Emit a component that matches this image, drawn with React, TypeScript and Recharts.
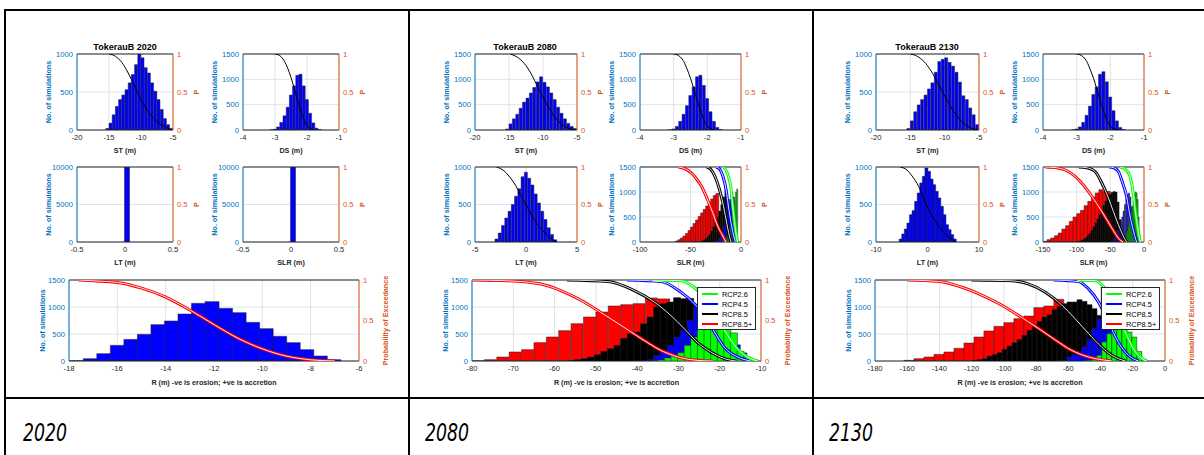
import React from "react";
import { ComposedChart, Bar, Line, XAxis, YAxis, CartesianGrid, ReferenceLine, Legend } from "recharts";

const FONT = "'Liberation Sans', Arial, Helvetica, sans-serif";
const INK = "#262626";
const LEFT_BLUE = "#0072BD";
const RIGHT_ORANGE = "#D95319";
const HIST_BLUE = "#0000FF";
const C26 = "#00FF00";
const C45 = "#0000FF";
const C85 = "#000000";
const C85P = "#FF0000";

const YEARS = ["2020", "2080", "2130"];
const RCP_LABELS = ["RCP2.6", "RCP4.5", "RCP8.5", "RCP8.5+"];
const RCP_COLORS = [C26, C45, C85, C85P];

// tick sets
const ST_TICKS = [-20, -15, -10, -5];
const DS_TICKS = [-4, -3, -2, -1];
const P_TICKS = [0, 0.5, 1];
const N1000 = [0, 500, 1000];
const N1500 = [0, 500, 1000, 1500];
const N10000 = [0, 5000, 10000];
const LT_TICKS_2020 = [-0.5, 0, 0.5];
const LT_TICKS_2080 = [-5, 0, 5];
const LT_TICKS_2130 = [-10, 0, 10];
const SLR_TICKS_2080 = [-100, -50, 0];
const SLR_TICKS_2130 = [-150, -100, -50, 0];
const R_TICKS_2020 = [-18, -16, -14, -12, -10, -8, -6];
const R_TICKS_2080 = [-80, -70, -60, -50, -40, -30, -20, -10];
const R_TICKS_2130 = [-180, -160, -140, -120, -100, -80, -60, -40, -20, 0];

// ---- 2020 ---- (bins = [first bin centre, bin width])
const ST_2020 = [20, 90, 200, 310, 400, 460, 530, 620, 730, 860, 1000, 950, 820, 750, 620, 510, 400, 270, 150, 70, 20];
const ST_2020_BIN = [-15.25, 0.5];
const ST_2020_P = [[-15, 1], [-14, 0.97], [-13, 0.89], [-12, 0.75], [-11, 0.58], [-10, 0.4], [-9, 0.26], [-8, 0.15], [-7, 0.08], [-6, 0.03], [-5.2, 0]];
const DS_2020 = [5, 15, 60, 150, 280, 450, 690, 870, 1080, 1100, 870, 600, 330, 140, 35, 8];
const DS_2020_BIN = [-3.1, 0.1];
const DS_2020_P = [[-3, 1], [-2.9, 0.99], [-2.8, 0.96], [-2.7, 0.9], [-2.6, 0.81], [-2.5, 0.69], [-2.4, 0.55], [-2.3, 0.4], [-2.2, 0.26], [-2.1, 0.14], [-2.0, 0.06], [-1.9, 0.02], [-1.8, 0]];
const LT_2020 = [0, 10000, 0];
const LT_2020_BIN = [-0.03, 0.05];
const SLR_2020 = [0, 10000, 0];
const SLR_2020_BIN = [-0.03, 0.05];
const R_2020 = [5, 43, 136, 290, 400, 494, 673, 741, 870, 1068, 1099, 975, 895, 716, 599, 457, 340, 210, 93, 25];
const R_2020_BIN = [-17.69, 0.56];
const R_2020_P = [[-17.6, 1], [-17, 0.99], [-16, 0.97], [-15, 0.9], [-14, 0.79], [-13, 0.63], [-12, 0.45], [-11, 0.28], [-10, 0.15], [-9, 0.06], [-8, 0.015], [-7, 0]];

// ---- 2080 ----
const ST_2080 = [20, 120, 220, 310, 430, 550, 630, 730, 840, 950, 1050, 940, 850, 730, 600, 450, 330, 220, 130, 70, 30];
const ST_2080_BIN = [-15.25, 0.5];
const ST_2080_P = [[-14.8, 1], [-14, 0.97], [-13, 0.9], [-12, 0.78], [-11, 0.61], [-10, 0.43], [-9, 0.27], [-8, 0.14], [-7, 0.06], [-6, 0.015], [-5.3, 0]];
const DS_2080 = [5, 20, 70, 170, 310, 480, 680, 850, 1050, 1080, 880, 620, 360, 170, 50, 10];
const DS_2080_BIN = [-3.1, 0.1];
const DS_2080_P = [[-3, 1], [-2.9, 0.99], [-2.8, 0.96], [-2.7, 0.9], [-2.6, 0.8], [-2.5, 0.68], [-2.4, 0.54], [-2.3, 0.39], [-2.2, 0.25], [-2.1, 0.13], [-2.0, 0.05], [-1.9, 0.015], [-1.8, 0]];
const LT_2080 = [40, 120, 220, 320, 410, 500, 610, 710, 870, 930, 850, 760, 640, 520, 410, 300, 190, 100, 30];
const LT_2080_BIN = [-2.88, 0.32];
const LT_2080_P = [[-2.9, 1], [-2.5, 0.98], [-2, 0.93], [-1.5, 0.85], [-1, 0.75], [-0.5, 0.62], [0, 0.5], [0.5, 0.37], [1, 0.26], [1.5, 0.17], [2, 0.1], [2.5, 0.04], [3, 0]];
const SLR_2080_RED = [20, 45, 80, 120, 170, 230, 300, 370, 440, 510, 580, 650, 720, 790, 860, 930, 970, 600, 200];
const SLR_2080_RED_BIN = [-63.75, 2.5];
const SLR_2080_BLACK = [10, 30, 60, 100, 150, 220, 300, 400, 500, 620, 750, 900, 1050, 800];
const SLR_2080_BLACK_BIN = [-39, 2];
const SLR_2080_BLUE = [10, 30, 70, 130, 210, 310, 430, 560, 700, 850, 1000, 900, 300];
const SLR_2080_BLUE_BIN = [-24.25, 1.5];
const SLR_2080_GREEN = [10, 30, 60, 110, 180, 270, 380, 510, 660, 820, 1000, 1060];
const SLR_2080_GREEN_BIN = [-17.375, 1.25];
const SLR_2080_RED_P = [[-62, 1], [-56, 0.98], [-49, 0.92], [-44, 0.84], [-39, 0.74], [-33, 0.56], [-28, 0.39], [-23, 0.21], [-18, 0.08], [-15, 0]];
const SLR_2080_BLACK_P = [[-34, 1], [-30, 0.97], [-26, 0.88], [-21.3, 0.7], [-18, 0.52], [-14.8, 0.3], [-11.5, 0.08], [-9.8, 0]];
const SLR_2080_BLUE_P = [[-24.6, 1], [-21, 0.97], [-18, 0.88], [-14.8, 0.7], [-12.5, 0.48], [-9.8, 0.25], [-7.2, 0.08], [-5.6, 0]];
const SLR_2080_GREEN_P = [[-18, 1], [-15.5, 0.97], [-13.1, 0.9], [-9.8, 0.7], [-8.2, 0.48], [-5.9, 0.21], [-3.9, 0.03], [-3.3, 0]];
const R_2080_RED = [3, 25, 74, 167, 210, 340, 444, 562, 691, 815, 907, 1019, 1043, 1062, 1167, 1150, 900, 550, 200, 40];
const R_2080_RED_BIN = [-78.5, 3];
const R_2080_BLACK = [6, 25, 43, 74, 117, 179, 228, 290, 420, 506, 537, 691, 815, 1000, 1062, 1093, 1173, 1154, 1160, 1050, 850, 600, 380, 200, 80, 20];
const R_2080_BLACK_BIN = [-56, 1.6];
const R_2080_BLUE = [3, 10, 25, 105, 185, 290, 444, 568, 753, 1000, 1154, 1100, 950, 750, 500, 300, 150, 50];
const R_2080_BLUE_BIN = [-39.9, 1.6];
const R_2080_GREEN = [5, 19, 56, 105, 154, 290, 444, 710, 900, 1050, 900, 700, 520, 180, 74, 25];
const R_2080_GREEN_BIN = [-35.8, 1.6];
const R_2080_RED_P = [[-80, 1], [-71.4, 0.99], [-63.3, 0.95], [-58.5, 0.87], [-53.6, 0.75], [-48.8, 0.6], [-43.9, 0.44], [-39.1, 0.28], [-34.2, 0.13], [-29.4, 0.04], [-24.5, 0.005], [-21.7, 0]];
const R_2080_BLACK_P = [[-57, 1], [-47.1, 0.98], [-40.7, 0.87], [-35.9, 0.73], [-31.8, 0.56], [-28.6, 0.4], [-25.4, 0.23], [-22.1, 0.11], [-18.9, 0.03], [-16.1, 0]];
const R_2080_BLUE_P = [[-42.4, 1], [-34.2, 0.98], [-29.4, 0.85], [-26.2, 0.71], [-23.7, 0.56], [-21.3, 0.36], [-18.9, 0.17], [-15.7, 0.05], [-12.5, 0]];
const R_2080_GREEN_P = [[-36.3, 1], [-29.4, 0.99], [-26.2, 0.91], [-23, 0.73], [-20.6, 0.52], [-18.1, 0.32], [-15.7, 0.15], [-13.3, 0.05], [-10.8, 0]];

// ---- 2130 ----
const ST_2130 = [20, 120, 240, 330, 400, 460, 540, 620, 760, 900, 930, 950, 890, 840, 760, 630, 450, 400, 290, 200, 70];
const ST_2130_BIN = [-15.25, 0.5];
const ST_2130_P = [[-15, 1], [-14, 0.97], [-13, 0.9], [-12, 0.78], [-11, 0.62], [-10, 0.45], [-9, 0.29], [-8, 0.16], [-7, 0.07], [-6, 0.02], [-5.2, 0]];
const DS_2130 = [5, 20, 60, 150, 290, 470, 700, 850, 1100, 1150, 950, 650, 380, 180, 50, 10];
const DS_2130_BIN = [-3.1, 0.1];
const DS_2130_P = [[-3, 1], [-2.9, 0.99], [-2.8, 0.96], [-2.7, 0.9], [-2.6, 0.8], [-2.5, 0.68], [-2.4, 0.54], [-2.3, 0.39], [-2.2, 0.25], [-2.1, 0.13], [-2.0, 0.05], [-1.9, 0.015], [-1.75, 0]];
const LT_2130 = [40, 107, 173, 253, 364, 418, 542, 653, 787, 876, 987, 942, 840, 764, 676, 587, 476, 364, 231, 164, 98, 40];
const LT_2130_BIN = [-5.25, 0.5];
const LT_2130_P = [[-5.3, 1], [-4, 0.96], [-3, 0.88], [-1.7, 0.74], [-0.4, 0.52], [0.9, 0.34], [2.2, 0.21], [3.5, 0.1], [4.8, 0.03], [5.4, 0]];
const SLR_2130_RED = [13, 47, 80, 127, 180, 260, 327, 413, 500, 567, 633, 727, 813, 900, 980, 1047, 1013, 1013, 700, 300, 80];
const SLR_2130_RED_BIN = [-146.75, 5.5];
const SLR_2130_BLACK = [5, 15, 30, 50, 80, 120, 170, 230, 300, 380, 460, 550, 640, 730, 820, 900, 950, 990, 1010, 1000, 800, 450, 150, 30];
const SLR_2130_BLACK_BIN = [-98.5, 3];
const SLR_2130_BLUE = [5, 15, 30, 60, 100, 150, 220, 300, 400, 500, 620, 750, 870, 950, 980, 900, 700, 400, 100];
const SLR_2130_BLUE_BIN = [-50, 2];
const SLR_2130_GREEN = [5, 10, 20, 40, 70, 110, 160, 230, 310, 400, 500, 610, 720, 830, 930, 1000, 980, 850, 500, 150];
const SLR_2130_GREEN_BIN = [-35, 1.5];
const SLR_2130_RED_P = [[-146.5, 1], [-130, 0.99], [-117, 0.96], [-97, 0.83], [-77.6, 0.61], [-62.8, 0.41], [-48, 0.19], [-36, 0.03], [-31, 0]];
const SLR_2130_BLACK_P = [[-97, 1], [-85, 0.99], [-72.7, 0.94], [-62.8, 0.79], [-53, 0.59], [-45.6, 0.41], [-38, 0.23], [-30.8, 0.08], [-25.9, 0]];
const SLR_2130_BLUE_P = [[-51.5, 1], [-45, 0.99], [-38, 0.94], [-33.3, 0.83], [-25.9, 0.61], [-21, 0.36], [-16, 0.16], [-12.1, 0.03], [-11, 0]];
const SLR_2130_GREEN_P = [[-35.7, 1], [-28, 0.97], [-21, 0.88], [-16, 0.65], [-12.6, 0.39], [-8.6, 0.14], [-6.2, 0.03], [-5.2, 0]];
const R_2130_RED = [12, 43, 74, 123, 167, 235, 333, 444, 556, 642, 710, 784, 833, 988, 1019, 1142, 1000, 700, 400, 150, 40];
const R_2130_RED_BIN = [-158.9, 6.2];
const R_2130_BLACK = [12, 25, 43, 93, 117, 154, 216, 278, 340, 401, 475, 568, 660, 735, 815, 858, 951, 1012, 1062, 1093, 1093, 1136, 1105, 1043, 969, 846, 599, 352, 167, 43, 12];
const R_2130_BLACK_BIN = [-118.15, 3.1];
const R_2130_BLUE = [3, 12, 74, 117, 179, 260, 400, 599, 784, 920, 1050, 1000, 850, 650, 420, 220, 80, 15];
const R_2130_BLUE_BIN = [-65.55, 3.1];
const R_2130_GREEN = [3, 12, 25, 105, 352, 506, 700, 850, 820, 537, 444, 179, 25];
const R_2130_GREEN_BIN = [-50.05, 3.1];
const R_2130_RED_P = [[-160, 1], [-146.6, 0.99], [-136.2, 0.97], [-125.9, 0.91], [-115.6, 0.83], [-103.2, 0.71], [-90.8, 0.56], [-78.4, 0.4], [-68.1, 0.26], [-57.8, 0.13], [-47.5, 0.05], [-37.1, 0.01], [-33, 0]];
const R_2130_BLACK_P = [[-120, 1], [-95, 0.99], [-84.6, 0.95], [-74.3, 0.85], [-64, 0.69], [-55.7, 0.52], [-47.5, 0.34], [-39.2, 0.17], [-33, 0.07], [-24.7, 0]];
const R_2130_BLUE_P = [[-69, 1], [-53.6, 0.98], [-47.5, 0.89], [-41.3, 0.73], [-35.1, 0.48], [-28.9, 0.23], [-22.7, 0.07], [-16.5, 0]];
const R_2130_GREEN_P = [[-54.7, 1], [-43.3, 0.99], [-37.1, 0.89], [-30.9, 0.65], [-24.7, 0.36], [-19.6, 0.15], [-14.4, 0.03], [-11.3, 0]];

type Hist = { counts: number[]; bin: number[]; color: string };
type Curve = { pts: number[][]; color: string; halo: boolean };

// chart frame around each plot area
const MT = 8;
const MB = 4;
const ML = 4;
const MR = 8;
const LW = 40;
const RW = 40;
const XH = 30;

const hist = (counts: number[], bin: number[], color: string): Hist => ({ counts, bin, color });
const cdf = (pts: number[][], color: string, halo = true): Curve => ({ pts, color, halo });
const histRows = (h: Hist) => h.counts.map((n, i) => ({ x: h.bin[0] + i * h.bin[1], n }));

function AxisText(props: any) {
  const { lx, ly, txt, tint, vert } = props;
  return (
    <text
      x={lx}
      y={ly}
      transform={vert ? `rotate(-90 ${lx} ${ly})` : undefined}
      textAnchor="middle"
      dominantBaseline="central"
      fill={tint}
      fontSize={7.2}
      fontWeight={700}
      fontFamily={FONT}
    >
      {txt}
    </text>
  );
}

function RcpLegend() {
  return (
    <div style={{ width: 59, height: 43, boxSizing: "border-box", border: "1px solid #262626", background: "#fff", paddingTop: 1 }}>
      {RCP_LABELS.map((name, i) => (
        <div key={name} style={{ display: "flex", alignItems: "center", height: 10, fontSize: 7.4, fontFamily: FONT, color: "#000", whiteSpace: "nowrap" }}>
          <span style={{ display: "inline-block", width: 16, height: 2, background: RCP_COLORS[i], marginLeft: 4, marginRight: 4 }} />
          {name}
        </div>
      ))}
    </div>
  );
}

interface PlotProps {
  x: number;
  y: number;
  w: number;
  h: number;
  xDomain: number[];
  xTicks: number[];
  yTicks: number[];
  hists: Hist[];
  curves: Curve[];
  xLabel: string;
  rLabel: string;
  big?: boolean;
  legendAt?: number[];
}

function Plot({ x, y, w, h, xDomain, xTicks, yTicks, hists, curves, xLabel, rLabel, big, legendAt }: PlotProps) {
  const yMax = yTicks[yTicks.length - 1];
  const px0 = ML + LW;
  const yOff = big ? 27 : 29;
  const rOff = big ? 26 : 23;
  const xOff = big ? 21 : 20;
  const tickFont = { fontSize: 7.6, fontFamily: FONT };
  const base = hists[0];
  const zero = { top: 0, right: 0, bottom: 0, left: 0 };
  return (
    <>
      <div style={{ position: "absolute", left: x - px0, top: y - MT }}>
        <ComposedChart
          width={w + LW + RW + ML + MR}
          height={h + XH + MT + MB}
          data={histRows(base)}
          margin={{ top: MT, right: MR, bottom: MB, left: ML }}
          barCategoryGap={0}
          barGap={0}
        >
          <CartesianGrid xAxisId="x" yAxisId="n" vertical={false} stroke="#dce6ef" />
          <CartesianGrid xAxisId="x" yAxisId="n" horizontal={false} stroke="#e2e2e2" />
          <XAxis
            xAxisId="x"
            dataKey="x"
            type="number"
            domain={xDomain}
            ticks={xTicks}
            allowDataOverflow
            interval={0}
            height={XH}
            tickSize={0}
            tickMargin={5}
            tick={{ ...tickFont, fill: INK }}
            axisLine={{ stroke: INK }}
            label={<AxisText lx={px0 + w / 2} ly={MT + h + xOff} txt={xLabel} tint={INK} />}
          />
          <YAxis
            yAxisId="n"
            orientation="left"
            type="number"
            width={LW}
            domain={[0, yMax]}
            ticks={yTicks}
            allowDataOverflow
            interval={0}
            tickSize={0}
            tickMargin={4}
            tick={{ ...tickFont, fill: LEFT_BLUE }}
            axisLine={{ stroke: LEFT_BLUE }}
            label={<AxisText lx={px0 - yOff} ly={MT + h / 2} txt="No. of simulations" tint={LEFT_BLUE} vert />}
          />
          <YAxis
            yAxisId="p"
            orientation="right"
            type="number"
            width={RW}
            domain={[0, 1]}
            ticks={P_TICKS}
            allowDataOverflow
            interval={0}
            tickSize={0}
            tickMargin={4}
            tick={{ ...tickFont, fill: RIGHT_ORANGE }}
            axisLine={{ stroke: RIGHT_ORANGE }}
            label={<AxisText lx={px0 + w + rOff} ly={MT + h / 2} txt={rLabel} tint={RIGHT_ORANGE} vert />}
          />
          <ReferenceLine xAxisId="x" yAxisId="n" y={yMax} stroke={INK} />
          <Bar xAxisId="x" yAxisId="n" dataKey="n" fill={base.color} stroke="#222" strokeWidth={0.5} isAnimationActive={false} />
        </ComposedChart>
      </div>
      {hists.slice(1).map((hh, i) => (
        <div key={"h" + i} style={{ position: "absolute", left: x, top: y }}>
          <ComposedChart width={w} height={h} data={histRows(hh)} margin={zero} barCategoryGap={0} barGap={0}>
            <XAxis xAxisId="x" dataKey="x" type="number" domain={xDomain} allowDataOverflow hide />
            <YAxis yAxisId="n" type="number" domain={[0, yMax]} allowDataOverflow hide />
            <Bar xAxisId="x" yAxisId="n" dataKey="n" fill={hh.color} stroke="#222" strokeWidth={0.5} isAnimationActive={false} />
          </ComposedChart>
        </div>
      ))}
      <div style={{ position: "absolute", left: x, top: y }}>
        <ComposedChart width={w} height={h} margin={zero}>
          <XAxis xAxisId="x" dataKey="x" type="number" domain={xDomain} allowDataOverflow hide />
          <YAxis yAxisId="p" type="number" domain={[0, 1]} allowDataOverflow hide />
          {curves.map((c, i) => (
            <Line
              key={"c" + i}
              xAxisId="x"
              yAxisId="p"
              data={c.pts.map(([px, p]) => ({ x: px, p }))}
              dataKey="p"
              type="monotone"
              stroke={c.color}
              strokeWidth={c.halo ? 3 : 1}
              dot={false}
              activeDot={false}
              isAnimationActive={false}
            />
          ))}
          {curves
            .filter((c) => c.halo)
            .map((c, i) => (
              <Line
                key={"w" + i}
                xAxisId="x"
                yAxisId="p"
                data={c.pts.map(([px, p]) => ({ x: px, p }))}
                dataKey="p"
                type="monotone"
                stroke="#ffffff"
                strokeWidth={0.9}
                dot={false}
                activeDot={false}
                isAnimationActive={false}
              />
            ))}
          {legendAt && (
            <Legend
              layout="vertical"
              align="center"
              verticalAlign="middle"
              wrapperStyle={{ left: legendAt[0], top: legendAt[1], width: 59, height: 43 }}
              content={() => <RcpLegend />}
            />
          )}
        </ComposedChart>
      </div>
    </>
  );
}

function Title({ cx, text }: { cx: number; text: string }) {
  return (
    <div style={{ position: "absolute", left: cx - 60, top: 41, width: 120, textAlign: "center", fontFamily: FONT, fontWeight: 700, fontSize: 9, lineHeight: "12px", color: "#000" }}>
      {text}
    </div>
  );
}

const R_LABEL = "R (m) -ve is erosion; +ve is accretion";
const PEX = "Probability of Exceedance";

export default function App() {
  const line = (l: number, t: number, w: number, hgt: number) => (
    <div style={{ position: "absolute", left: l, top: t, width: w, height: hgt, background: "#000" }} />
  );
  const yearLeft = [23, 425, 829];
  return (
    <div style={{ position: "absolute", left: 0, top: 0, width: 1204, height: 455, background: "#fff", overflow: "hidden" }}>
      {line(4, 9, 1200, 2)}
      {line(4, 9, 2, 446)}
      {line(408, 9, 2, 446)}
      {line(812, 9, 2, 446)}
      {line(4, 397, 1200, 2)}

      {/* 2020 */}
      <Title cx={125} text={"TokerauB " + YEARS[0]} />
      <Plot x={77} y={54} w={96} h={76} xDomain={[-20, -5]} xTicks={ST_TICKS} yTicks={N1000} xLabel="ST (m)" rLabel="P"
        hists={[hist(ST_2020, ST_2020_BIN, HIST_BLUE)]} curves={[cdf(ST_2020_P, "#000", false)]} />
      <Plot x={243} y={54} w={96} h={76} xDomain={[-4, -1]} xTicks={DS_TICKS} yTicks={N1500} xLabel="DS (m)" rLabel="P"
        hists={[hist(DS_2020, DS_2020_BIN, HIST_BLUE)]} curves={[cdf(DS_2020_P, "#000", false)]} />
      <Plot x={77} y={167} w={96} h={75} xDomain={[-0.5, 0.5]} xTicks={LT_TICKS_2020} yTicks={N10000} xLabel="LT (m)" rLabel="P"
        hists={[hist(LT_2020, LT_2020_BIN, HIST_BLUE)]} curves={[]} />
      <Plot x={243} y={167} w={96} h={75} xDomain={[-0.5, 0.5]} xTicks={LT_TICKS_2020} yTicks={N10000} xLabel="SLR (m)" rLabel="P"
        hists={[hist(SLR_2020, SLR_2020_BIN, HIST_BLUE)]} curves={[]} />
      <Plot x={69} y={280} w={290} h={81} xDomain={[-18, -6]} xTicks={R_TICKS_2020} yTicks={N1500} xLabel={R_LABEL} rLabel={PEX} big
        hists={[hist(R_2020, R_2020_BIN, HIST_BLUE)]} curves={[cdf(R_2020_P, C85P)]} />

      {/* 2080 */}
      <Title cx={525} text={"TokerauB " + YEARS[1]} />
      <Plot x={475} y={54} w={102} h={76} xDomain={[-20, -5]} xTicks={ST_TICKS} yTicks={N1500} xLabel="ST (m)" rLabel="P"
        hists={[hist(ST_2080, ST_2080_BIN, HIST_BLUE)]} curves={[cdf(ST_2080_P, "#000", false)]} />
      <Plot x={640} y={54} w={101} h={76} xDomain={[-4, -1]} xTicks={DS_TICKS} yTicks={N1500} xLabel="DS (m)" rLabel="P"
        hists={[hist(DS_2080, DS_2080_BIN, HIST_BLUE)]} curves={[cdf(DS_2080_P, "#000", false)]} />
      <Plot x={475} y={167} w={102} h={75} xDomain={[-5, 5]} xTicks={LT_TICKS_2080} yTicks={N1000} xLabel="LT (m)" rLabel="P"
        hists={[hist(LT_2080, LT_2080_BIN, HIST_BLUE)]} curves={[cdf(LT_2080_P, "#000", false)]} />
      <Plot x={640} y={167} w={101} h={75} xDomain={[-100, 0]} xTicks={SLR_TICKS_2080} yTicks={N1500} xLabel="SLR (m)" rLabel="P"
        hists={[
          hist(SLR_2080_RED, SLR_2080_RED_BIN, C85P),
          hist(SLR_2080_BLACK, SLR_2080_BLACK_BIN, C85),
          hist(SLR_2080_BLUE, SLR_2080_BLUE_BIN, C45),
          hist(SLR_2080_GREEN, SLR_2080_GREEN_BIN, C26),
        ]}
        curves={[cdf(SLR_2080_RED_P, C85P), cdf(SLR_2080_BLACK_P, C85), cdf(SLR_2080_BLUE_P, C45), cdf(SLR_2080_GREEN_P, C26)]} />
      <Plot x={472} y={280} w={289} h={81} xDomain={[-80, -10]} xTicks={R_TICKS_2080} yTicks={N1500} xLabel={R_LABEL} rLabel={PEX} big
        legendAt={[225, 7]}
        hists={[
          hist(R_2080_RED, R_2080_RED_BIN, C85P),
          hist(R_2080_BLACK, R_2080_BLACK_BIN, C85),
          hist(R_2080_BLUE, R_2080_BLUE_BIN, C45),
          hist(R_2080_GREEN, R_2080_GREEN_BIN, C26),
        ]}
        curves={[cdf(R_2080_RED_P, C85P), cdf(R_2080_BLACK_P, C85), cdf(R_2080_BLUE_P, C45), cdf(R_2080_GREEN_P, C26)]} />

      {/* 2130 */}
      <Title cx={927} text={"TokerauB " + YEARS[2]} />
      <Plot x={876} y={54} w={103} h={76} xDomain={[-20, -5]} xTicks={ST_TICKS} yTicks={N1000} xLabel="ST (m)" rLabel="P"
        hists={[hist(ST_2130, ST_2130_BIN, HIST_BLUE)]} curves={[cdf(ST_2130_P, "#000", false)]} />
      <Plot x={1043} y={54} w={101} h={76} xDomain={[-4, -1]} xTicks={DS_TICKS} yTicks={N1500} xLabel="DS (m)" rLabel="P"
        hists={[hist(DS_2130, DS_2130_BIN, HIST_BLUE)]} curves={[cdf(DS_2130_P, "#000", false)]} />
      <Plot x={876} y={167} w={103} h={75} xDomain={[-10, 10]} xTicks={LT_TICKS_2130} yTicks={N1000} xLabel="LT (m)" rLabel="P"
        hists={[hist(LT_2130, LT_2130_BIN, HIST_BLUE)]} curves={[cdf(LT_2130_P, "#000", false)]} />
      <Plot x={1043} y={167} w={101} h={75} xDomain={[-150, 0]} xTicks={SLR_TICKS_2130} yTicks={N1500} xLabel="SLR (m)" rLabel="P"
        hists={[
          hist(SLR_2130_RED, SLR_2130_RED_BIN, C85P),
          hist(SLR_2130_BLACK, SLR_2130_BLACK_BIN, C85),
          hist(SLR_2130_BLUE, SLR_2130_BLUE_BIN, C45),
          hist(SLR_2130_GREEN, SLR_2130_GREEN_BIN, C26),
        ]}
        curves={[cdf(SLR_2130_RED_P, C85P), cdf(SLR_2130_BLACK_P, C85), cdf(SLR_2130_BLUE_P, C45), cdf(SLR_2130_GREEN_P, C26)]} />
      <Plot x={875} y={280} w={290} h={81} xDomain={[-180, 0]} xTicks={R_TICKS_2130} yTicks={N1500} xLabel={R_LABEL} rLabel={PEX} big
        legendAt={[226, 7]}
        hists={[
          hist(R_2130_RED, R_2130_RED_BIN, C85P),
          hist(R_2130_BLACK, R_2130_BLACK_BIN, C85),
          hist(R_2130_BLUE, R_2130_BLUE_BIN, C45),
          hist(R_2130_GREEN, R_2130_GREEN_BIN, C26),
        ]}
        curves={[cdf(R_2130_RED_P, C85P), cdf(R_2130_BLACK_P, C85), cdf(R_2130_BLUE_P, C45), cdf(R_2130_GREEN_P, C26)]} />

      {YEARS.map((yr, i) => (
        <div key={yr} style={{ position: "absolute", left: yearLeft[i], top: 421, fontFamily: "'Liberation Sans Narrow', 'DejaVu Sans Condensed', sans-serif", fontStyle: "italic", fontSize: 24, lineHeight: "24px", color: "#000", transform: "scaleX(0.8)", transformOrigin: "left center" }}>
          {yr}
        </div>
      ))}
    </div>
  );
}
